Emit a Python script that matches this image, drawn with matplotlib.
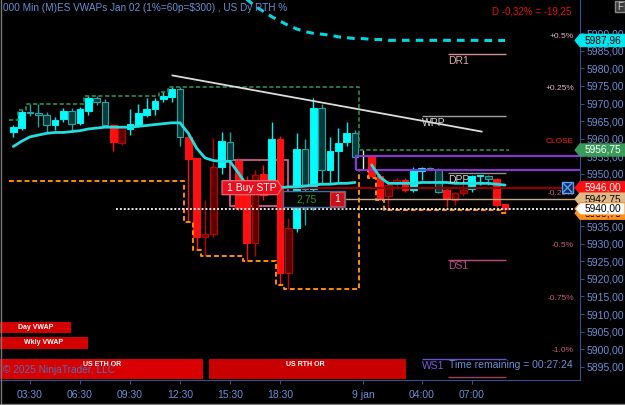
import numpy as np
import matplotlib.pyplot as plt
from matplotlib.patches import Polygon, Rectangle
from matplotlib.transforms import blended_transform_factory

plt.rcParams['font.family'] = ['Liberation Sans', 'DejaVu Sans']

# 30 min bars, bar 0 = 03:30
bar_idx = np.arange(-2, 58)
opens = [5961.75, 5963.00, 5967.50, 5967.25, 5966.75, 5963.75, 5965.50, 5967.75, 5964.50, 5967.75,
         5971.50, 5970.50, 5964.00, 5958.75, 5962.75, 5963.75, 5966.75, 5968.50, 5971.25, 5971.75,
         5974.00, 5960.50, 5954.50, 5932.00, 5932.75, 5952.00, 5959.00, 5953.75, 5948.25, 5930.25,
         5950.00, 5946.00, 5960.00, 5921.75, 5934.50, 5957.00, 5945.75, 5968.75, 5951.00, 5956.50,
         5959.00, 5961.50, 5955.00, 5955.25, 5949.25, 5943.50, 5947.50, 5948.25, 5945.25, 5950.75,
         5951.75, 5951.00, 5945.25, 5942.50, 5944.50, 5945.50, 5949.25, 5949.25, 5948.50, 5941.25]
highs = [5963.75, 5968.25, 5969.75, 5969.75, 5967.50, 5966.25, 5968.75, 5968.75, 5969.00, 5972.25,
         5972.00, 5971.25, 5964.25, 5963.50, 5968.50, 5970.00, 5971.50, 5971.50, 5973.25, 5974.75,
         5974.75, 5962.00, 5954.50, 5942.50, 5960.25, 5962.00, 5962.00, 5954.50, 5949.25, 5951.00,
         5952.50, 5964.75, 5960.75, 5937.50, 5961.50, 5960.00, 5971.50, 5970.00, 5960.50, 5963.00,
         5964.75, 5962.50, 5956.75, 5955.25, 5950.00, 5948.25, 5948.75, 5948.75, 5952.00, 5952.00,
         5952.00, 5951.50, 5946.00, 5944.75, 5947.25, 5949.50, 5949.75, 5949.50, 5948.75, 5941.50]
lows = [5960.50, 5962.50, 5966.50, 5963.25, 5962.00, 5962.50, 5964.75, 5962.50, 5964.00, 5966.75,
        5969.50, 5963.50, 5956.50, 5958.25, 5961.00, 5963.25, 5966.25, 5966.75, 5970.50, 5970.50,
        5957.75, 5936.25, 5928.25, 5926.50, 5932.00, 5950.00, 5953.50, 5939.75, 5925.00, 5926.50,
        5942.50, 5944.75, 5918.25, 5917.00, 5933.50, 5935.50, 5939.75, 5946.75, 5947.25, 5947.25,
        5957.75, 5951.50, 5951.00, 5948.75, 5942.50, 5939.75, 5945.75, 5944.75, 5944.75, 5948.25,
        5951.00, 5944.50, 5940.50, 5941.00, 5943.50, 5944.75, 5946.75, 5946.75, 5940.50, 5938.75]
closes = [5963.25, 5967.50, 5967.25, 5966.75, 5964.00, 5965.25, 5967.75, 5964.25, 5968.50, 5971.50,
          5970.50, 5964.00, 5959.00, 5963.25, 5964.25, 5967.25, 5968.50, 5970.75, 5972.00, 5974.00,
          5960.50, 5954.25, 5932.00, 5932.75, 5952.00, 5959.25, 5954.00, 5940.25, 5930.25, 5949.75,
          5944.00, 5960.00, 5921.75, 5934.50, 5957.00, 5945.75, 5968.75, 5951.00, 5956.50, 5958.75,
          5961.50, 5954.75, 5955.00, 5949.25, 5943.00, 5946.75, 5948.25, 5945.25, 5951.00, 5951.50,
          5951.00, 5944.75, 5942.75, 5944.50, 5945.25, 5949.25, 5949.50, 5948.50, 5941.00, 5940.00]
trend = [1, 1, 1, 1, 1, 1, 1, 1, 1, 1, 1, 1, -1, -1, 1, 1, 1, 1, 1, 1,
         1, -1, -1, -1, -1, 1, 1, -1, -1, -1, -1, 1, -1, -1, 1, 1, 1, 1, 1, 1,
         1, 1, 0, -1, -1, -1, -1, -1, 1, 1, 1, 1, -1, -1, -1, 1, 1, 1, -1, -1]

session2_start = 40
prior_hi, prior_lo = 5965.25, 5948.00

vwap_day1_idx = np.arange(-2, 40)
vwap_day1 = [5957.75, 5959.25, 5960.50, 5961.00, 5961.50, 5961.75, 5961.75, 5962.00, 5962.25, 5962.75,
             5963.00, 5963.25, 5963.25, 5963.25, 5963.25, 5963.50, 5963.75, 5964.00, 5964.25, 5964.50,
             5964.50, 5961.50, 5957.25, 5954.50, 5953.75, 5953.50, 5953.50, 5950.25, 5946.75, 5945.75,
             5945.50, 5945.50, 5946.00, 5946.25, 5946.25, 5946.50, 5946.75, 5947.00, 5947.00, 5947.25,
             5947.25, 5947.50]
vwap_day2_idx = np.arange(41, 58)
vwap_day2 = [5952.50, 5949.00, 5947.25, 5947.25, 5947.25, 5947.25, 5947.50, 5947.50, 5947.50, 5947.50,
             5947.25, 5947.25, 5947.25, 5947.25, 5947.25, 5947.00, 5946.75]
vwap_wk_idx = np.arange(24, 58)
vwap_wk = [6004.50, 6002.00, 5999.75, 5997.75, 5996.25, 5994.75, 5993.50, 5992.25, 5991.25, 5990.50,
           5990.00, 5989.75, 5989.50, 5989.00, 5988.75, 5988.50, 5988.50, 5988.25, 5988.25, 5988.00,
           5988.00, 5988.00, 5988.00, 5988.00, 5988.00, 5988.00, 5988.00, 5988.00, 5988.00, 5988.00,
           5988.00, 5987.96, 5987.96, 5987.96]

trend_line = ([17.1, 54.2], [5978.0, 5962.0])

pivot_names = ['DR1', 'WPP', 'DPP', 'DS1', 'WS1', 'DS2']
pivot_levels = [5984.00, 5966.50, 5950.25, 5925.50, 5897.25, 5892.00]

rth_close = 5959.25
pct_levels = [0.5, 0.25, 0.0, -0.25, -0.5, -0.75, -1.0]
pct_labels = ['+0.5%', '+0.25%', 'CLOSE', '-0.25%', '-0.5%', '-0.75%', '-1.0%']

stop_price = 5946.00
entry_price = 5942.75
or_box = (5951.00, 5955.00)

xtick_pos = [0, 6, 12, 18, 24, 30, 40, 47, 53]
xtick_labels = ['03:30', '06:30', '09:30', '12:30', '15:30', '18:30', '9 jan', '04:00', '07:00']

axis_blue = '#6b8fd6'
spine_col = '#34508a'

fig = plt.figure(figsize=(6.25, 4.05), dpi=100, facecolor='black')
ax = fig.add_axes([0, 25 / 405, 580 / 625, 380 / 405], facecolor='black')
ax.set_xlim(-3.6, 66.0)
ax.set_ylim(5891.2, 5999.5)

o = np.array(opens); h = np.array(highs); l = np.array(lows); c = np.array(closes)
tr = np.array(trend)
last = c[-1]

# session high / low step lines
s1 = bar_idx < session2_start
run_hi = np.empty_like(h)
run_lo = np.empty_like(l)
run_hi[s1] = np.maximum.accumulate(np.concatenate([[prior_hi], h[s1]]))[1:]
run_lo[s1] = np.minimum.accumulate(np.concatenate([[prior_lo], l[s1]]))[1:]
run_hi[~s1] = np.maximum.accumulate(h[~s1])
run_lo[~s1] = np.minimum.accumulate(l[~s1])
xe = np.append(bar_idx - 0.5, bar_idx[-1] + 0.5)
ax.step(xe, np.append(run_hi, run_hi[-1]), where='post', color='#2e8b57', lw=1.2,
        linestyle=(0, (2.5, 1.5)), zorder=4)
ax.step(xe, np.append(run_lo, run_lo[-1]), where='post', color='#ff8c00', lw=1.4,
        linestyle=(0, (2.5, 1.5)), zorder=4)

# order zone rectangle
ax.add_patch(Rectangle((24.0, 5940.8), 7.0, 13.1, fill=False, edgecolor='#e0609a', lw=1.2, zorder=1))

# candles
fill, edge = [], []
for t, oo, cc in zip(tr, o, c):
    up = cc >= oo
    if t > 0:
        fill.append('#00ffff' if up else '#0b3838')
        edge.append('#00f0f0' if up else '#1aa8a8')
    elif t < 0:
        fill.append('#ff1010' if not up else '#5c0000')
        edge.append('#ff1010' if not up else '#c00000')
    else:
        fill.append('#e8e8e8')
        edge.append('#e8e8e8')
ax.vlines(bar_idx, l, h, colors=edge, lw=1, zorder=2)
ax.bar(bar_idx, np.abs(c - o), bottom=np.minimum(o, c), width=0.8, color=fill,
       edgecolor=edge, lw=0.8, zorder=3)

# VWAPs
ax.plot(vwap_day1_idx, vwap_day1, color='#22dede', lw=2, zorder=5, solid_capstyle='round')
ax.plot(vwap_day2_idx, vwap_day2, color='#22dede', lw=2, zorder=5, solid_capstyle='round')
ax.plot(vwap_wk_idx, vwap_wk, color='#00d8e0', lw=2.2, linestyle=(0, (2.5, 2)), zorder=5)

# trend line
ax.plot(trend_line[0], trend_line[1], color='#dcdcdc', lw=1.3, zorder=5)

# opening range box
ax.add_patch(Rectangle((39.1, or_box[0]), 40, or_box[1] - or_box[0], fill=False,
                       edgecolor='#9030e0', lw=1.4, zorder=4))

# pivots
piv_col = {'DR1': ('#d09090', '#e0a8a8'), 'WPP': ('#a0a0a0', '#d0d0d0'), 'DPP': ('#909090', '#d0d0d0'),
           'DS1': ('#c04880', '#c04880'), 'WS1': ('#6a50c8', '#7a5ad8'), 'DS2': ('#a04060', None)}
for name, lev in zip(pivot_names, pivot_levels):
    start = 47.0 if name.startswith('W') else 50.2
    lc, tc = piv_col[name]
    ax.hlines(lev, start, 57.1, color=lc, lw=1, zorder=4)
    if tc:
        ax.text(start, lev - 0.5, name, color=tc, fontsize=7.5, ha='left', va='top', zorder=6)

# order lines
ax.hlines(last, 10.3, 70, color='#e6e6e6', lw=1.4, linestyle=(0, (1, 1)), zorder=4)
ax.hlines(stop_price, 30.24, 70, color='#8b0000', lw=1.6, zorder=4)
ax.hlines(entry_price, 37.8, 70, color='#c8a882', lw=1, zorder=4)

ax.add_patch(Polygon([(23.04, stop_price - 2.0), (29.7, stop_price - 2.0), (30.24, stop_price),
                      (29.7, stop_price + 2.0), (23.04, stop_price + 2.0)],
                     closed=True, facecolor='#e8101e', edgecolor='#ff7080', lw=0.8, zorder=7))
ax.text(26.6, stop_price, '1 Buy STP', color='white', fontsize=7.5, ha='center', va='center', zorder=8)
ax.add_patch(Rectangle((30.4, entry_price - 2.2), 7.4, 4.4, facecolor='#050505',
                       edgecolor='#4a6a9a', lw=1, zorder=7))
ax.add_patch(Rectangle((36.0, entry_price - 2.0), 1.7, 4.0, facecolor='#c8101a',
                       edgecolor='#e04040', lw=0.8, zorder=8))
pnl = entry_price - last
ax.text(33.2, entry_price, f'{pnl:.2f}'.replace('.', ','), color='#2a9a2a', fontsize=7.5,
        ha='center', va='center', zorder=8)
ax.text(36.85, entry_price, '1', color='white', fontsize=7.5, ha='center', va='center', zorder=9)

# axes styling
for s in ['left', 'top']:
    ax.spines[s].set_visible(False)
for s in ['right', 'bottom']:
    ax.spines[s].set_color(spine_col)
ax.yaxis.tick_right()
yt = np.arange(5895, 5991, 5)
ax.set_yticks(yt)
ax.set_yticklabels([f'{v:.2f}'.replace('.', ',') for v in yt])
ax.tick_params(axis='y', colors=spine_col, labelcolor=axis_blue, labelsize=7.5, length=3, pad=2)
ax.set_xticks(xtick_pos)
ax.set_xticklabels(xtick_labels)
ax.tick_params(axis='x', colors=spine_col, labelcolor=axis_blue, labelsize=7.5, length=3, pad=4.5)

# right side labels and price tags
bt = blended_transform_factory(fig.transFigure, ax.transData)
for p, lab in zip(pct_levels, pct_labels):
    col = '#ff1a1a' if p == 0 else ('#e0b0c0' if p > 0 else '#d05878')
    ax.text(574 / 625, rth_close * (1 + p / 100), lab, transform=bt, color=col, fontsize=6,
            ha='right', va='center', zorder=6, clip_on=False)

tags = [(vwap_wk[-1], '#00e5ee', 'black'), (run_hi[-1], '#3a9a5a', 'white'),
        (stop_price, '#ff1010', 'white'), (run_lo[-1], '#ff9020', 'black'),
        (entry_price, '#deb887', 'black'), (last, 'white', 'black')]
hh = 1.75
for k, (p, bg, fg) in enumerate(tags):
    ax.add_patch(Polygon([(575 / 625, p), (580 / 625, p + hh), (1.0, p + hh), (1.0, p - hh),
                          (580 / 625, p - hh)], closed=True, transform=bt, facecolor=bg,
                         edgecolor='#ff9020' if bg == 'white' else bg, lw=0.8,
                         zorder=10 + k, clip_on=False))
    ax.text(603 / 625, p, f'{p:.2f}'.replace('.', ','), transform=bt, color=fg, fontsize=7.3,
            ha='center', va='center', zorder=10 + k, clip_on=False)

# close-order button
ax.add_patch(Rectangle((562 / 625, stop_price - 1.6), 11 / 625, 3.2, transform=bt,
                       facecolor='#102a50', edgecolor='#5aa0ff', lw=1, zorder=9, clip_on=False))
ax.plot([563.5 / 625, 571.5 / 625], [stop_price - 1.2, stop_price + 1.2], transform=bt,
        color='#5aa0ff', lw=1, zorder=9, clip_on=False)
ax.plot([563.5 / 625, 571.5 / 625], [stop_price + 1.2, stop_price - 1.2], transform=bt,
        color='#5aa0ff', lw=1, zorder=9, clip_on=False)

# overlay in pixel coordinates
ov = fig.add_axes([0, 0, 1, 1])
ov.set_xlim(0, 625)
ov.set_ylim(405, 0)
ov.axis('off')
ov.patch.set_alpha(0)

ov.text(3, 8, '000 Min (M)ES VWAPs Jan 02 (1%=60p=$300) , US Dy RTH %', color=axis_blue,
        fontsize=7.2, ha='left', va='center')
chg = last - rth_close
ov.text(571, 11, f'D {chg / rth_close * 100:.2f}% = {chg:.2f}'.replace('.', ','), color='#e81010',
        fontsize=7, ha='right', va='center')
ov.add_patch(Rectangle((615, 0.5), 10, 11.5, facecolor='#3a3a3a', edgecolor='#8a8a8a', lw=1))
ov.text(620.5, 6.5, 'F', color='#d0d0d0', fontsize=7, ha='center', va='center')

boxes = [((0, 321.7), 71, 11.6, 'Day VWAP', (35.5, 327.5), '#d40000'),
         ((0, 336.7), 87.7, 12, 'Wkly VWAP', (44, 342.7), '#d40000'),
         ((0, 359.3), 203, 19.7, 'US ETH OR', (102, 364), '#d80000'),
         ((209, 359.3), 196.7, 19.7, 'US RTH OR', (305, 364), '#c80000')]
for xy, w, hgt, txt, tpos, col in boxes:
    ov.add_patch(Rectangle(xy, w, hgt, facecolor=col, edgecolor='none'))
    ov.text(tpos[0], tpos[1], txt, color='white', fontsize=5, fontweight='bold', ha='center', va='center')
ov.text(3, 370, '\u00a9 2025 NinjaTrader, LLC', color='#4d6fb8', fontsize=7.3, ha='left', va='center')
ov.text(449, 365, 'Time remaining = 00:27:24', color=axis_blue, fontsize=7.5, ha='left', va='center')

ov.plot([0.5, 0.5], [0, 403], color='#777777', lw=1)
ov.plot([0, 625], [403.5, 403.5], color='#777777', lw=1)

fig.savefig('out.png', dpi=100, facecolor='black')
